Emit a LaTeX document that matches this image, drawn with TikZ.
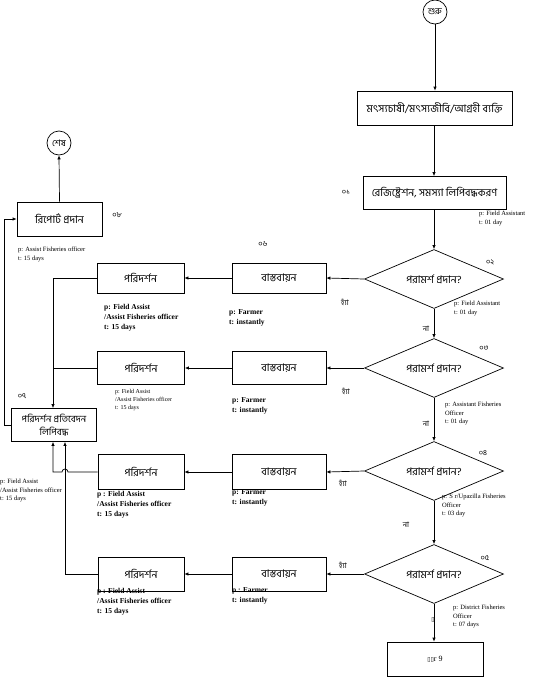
\documentclass[tikz,border=0pt]{standalone}
\usepackage{fontspec}
\setmainfont{Liberation Serif}
\newfontfamily\bn[Script=Bengali]{Hind Siliguri}
\newfontfamily\dv{DejaVu Sans}
\usetikzlibrary{arrows.meta,shapes.geometric}
\tikzset{
  box/.style={draw, line width=0.7pt, inner sep=0pt, align=center, font=\bn\fontsize{10.5}{12}\selectfont},
  dia/.style={draw, shape=diamond, line width=0.7pt, inner sep=0pt, aspect=2.36, minimum width=139pt, minimum height=59pt, font=\bn\fontsize{10.5}{12}\selectfont},
  term/.style={draw, circle, line width=0.7pt, inner sep=0pt, minimum size=24pt, font=\bn\fontsize{9}{10}\selectfont},
  arr/.style={-{Latex[length=4pt,width=3.5pt]}, line width=0.7pt},
  ln/.style={line width=0.7pt},
  lab/.style={font=\fontsize{6.5}{8.5}\selectfont, align=left, inner sep=0pt, anchor=north west},
  slab/.style={font=\fontsize{6}{8}\selectfont, align=left, inner sep=0pt, anchor=north west},
  blab/.style={font=\bfseries\fontsize{7.5}{10}\selectfont, align=left, inner sep=0pt, anchor=north west},
  num/.style={font=\bn\fontsize{7.5}{8}\selectfont, inner sep=0pt},
  yes/.style={font=\bn\fontsize{7.5}{8}\selectfont, inner sep=0pt}
}
\begin{document}
\begin{tikzpicture}[x=1pt,y=-1pt]
\useasboundingbox (0,0) rectangle (539,691);
% main column
\node[term] (start) at (435,12) {শুরু};
\node[box, minimum width=155pt, minimum height=34pt] (b1) at (434.5,108) {মৎস্যচাষী/মৎস্যজীবি/আগ্রহী ব্যক্তি};
\node[box, minimum width=143pt, minimum height=33pt] (b2) at (434.5,193) {রেজিষ্ট্রেশন, সমস্যা লিপিবদ্ধকরণ};
\node[dia] (d1) at (434,279) {পরামর্শ প্রদান?};
\node[dia] (d2) at (434,368) {পরামর্শ প্রদান?};
\node[dia] (d3) at (434,471) {পরামর্শ প্রদান?};
\node[dia] (d4) at (434,574) {পরামর্শ প্রদান?};
\node[box, minimum width=96pt, minimum height=34pt, font=\fontsize{8}{9}\selectfont] (fin) at (435,659) {{\dv\fontsize{6}{7}\selectfont ▯▯}r 9};
% rows
\node[box, minimum width=94pt, minimum height=30pt] (i1) at (279,278) {বাস্তবায়ন};
\node[box, minimum width=87pt, minimum height=30pt] (v1) at (140.5,278) {পরিদর্শন};
\node[box, minimum width=94pt, minimum height=33pt] (i2) at (279,368) {বাস্তবায়ন};
\node[box, minimum width=87pt, minimum height=33pt] (v2) at (141,368) {পরিদর্শন};
\node[box, minimum width=94pt, minimum height=35pt] (i3) at (279,472) {বাস্তবায়ন};
\node[box, minimum width=86pt, minimum height=35pt] (v3) at (141,472) {পরিদর্শন};
\node[box, minimum width=94pt, minimum height=34pt] (i4) at (279,574) {বাস্তবায়ন};
\node[box, minimum width=86pt, minimum height=34pt] (v4) at (141,574) {পরিদর্শন};
% left column
\node[box, minimum width=85pt, minimum height=33pt, font=\bn\fontsize{9.5}{13}\selectfont] (rec) at (54,425) {পরিদর্শন প্রতিবেদন\\লিপিবদ্ধ};
\node[box, minimum width=85pt, minimum height=34pt] (rep) at (59.5,219) {রিপোর্ট প্রদান};
\node[term] (end) at (59,143) {শেষ};
% connectors main
\draw[arr] (start) -- (b1.north -| start);
\draw[arr] (b1.south -| d1) -- (b2.north -| d1);
\draw[arr] (b2.south -| d1) -- (d1.north);
\draw[arr] (d1.south) -- (d2.north);
\draw[arr] (d2.south) -- (d3.north);
\draw[arr] (d3.south) -- (d4.north);
\draw[arr] (d4.south) -- (fin.north -| d4);
% rows
\draw[arr] (d1.west) -- (i1.east);
\draw[arr] (i1.west) -- (v1.east);
\draw[arr] (d2.west) -- (i2.east);
\draw[arr] (i2.west) -- (v2.east);
\draw[arr] (d3.west) -- (i3.east);
\draw[arr] (i3.west) -- (v3.east);
\draw[arr] (d4.west) -- (i4.east);
\draw[arr] (i4.west) -- (v4.east);
% to record box
\coordinate (j1) at (53,278);
\coordinate (j3) at (53,472);
\coordinate (j4) at (65,574);
\draw[arr] (v1.west) -- (j1) -- (j1 |- rec.north);
\draw[ln] (v2.west) -- (v2.west -| j1);
\draw[arr] (v3.west) -- (68,472) arc[start angle=0, end angle=180, radius=3pt] -- (j3) -- (j3 |- rec.south);
\draw[arr] (v4.west) -- (j4) -- (j4 |- rec.south);
\coordinate (lb) at (4,425);
\draw[arr] (rec.west) -- (lb) -- (lb |- rep.west) -- (rep.west);
\draw[arr] (rep.north) -- (end.south);
% numbers
\node[num] (n1) at (346,192) {০১};
\node[num] (n2) at (490,262) {০২};
\node[num] (n3) at (484,348) {০৩};
\node[num] (n4) at (483,453) {০৪};
\node[num] (n5) at (485,558) {০৫};
\node[num] (n6) at (263,244) {০৬};
\node[num] (n7) at (22,396) {০৭};
\node[num] (n8) at (117,215) {০৮};
% yes / no
\node[yes] (y1) at (345,302) {হ্যাঁ};
\node[yes] (y2) at (346,391) {হ্যাঁ};
\node[yes] (y3) at (343,483) {হ্যাঁ};
\node[yes] (y4) at (343,565) {হ্যাঁ};
\node[yes] (no1) at (426,329) {না};
\node[yes] (no2) at (426,424) {না};
\node[yes] (no3) at (406,525) {না};
\node[inner sep=0pt, font=\dv\fontsize{6}{7}\selectfont] (no4) at (433,620) {▯};
% labels
\node[lab] (l1) at (479,211) {p: Field Assistant\\t: 01 day};
\node[lab] (l2) at (454,301) {p: Field Assistant\\t: 01 day};
\node[lab] (l3) at (445,402) {p: Assistant Fisheries\\ Officer\\t: 01 day};
\node[lab] (l4) at (442,494) {p: S r/Upazilla Fisheries\\ Officer\\t: 03 day};
\node[lab] (l5) at (453,605) {p: District Fisheries\\ Officer\\t: 07 days};
\node[lab] (lr) at (18,247) {p: Assist Fisheries officer\\t: 15 days};
\node[lab] (ll) at (0,479) {p: Field Assist\\/Assist Fisheries officer\\t: 15 days};
\node[slab] (lv2) at (115,389) {p: Field Assist\\/Assist Fisheries officer\\t: 15 days};
\node[blab] (lv1) at (104,304) {p: Field Assist\\/Assist Fisheries officer\\t: 15 days};
\node[blab] (li1) at (229,309) {p: Farmer\\t: instantly};
\node[blab] (li2) at (232,397) {p: Farmer\\t: instantly};
\node[blab] (lv3) at (97,491) {p : Field Assist\\/Assist Fisheries officer\\t: 15 days};
\node[blab] (li3) at (232,489) {p: Farmer\\t: instantly};
\node[blab] (lv4) at (97,588) {p : Field Assist\\/Assist Fisheries officer\\t: 15 days};
\node[blab] (li4) at (232,587) {p : Farmer\\t: instantly};
\end{tikzpicture}
\end{document}
